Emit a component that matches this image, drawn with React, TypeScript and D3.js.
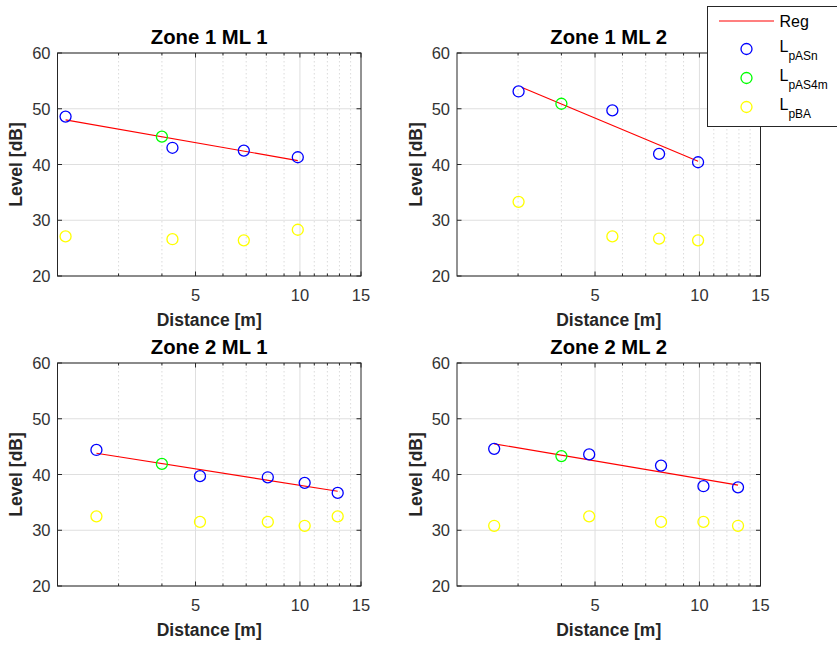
import React from "react";
import * as d3 from "d3";

// ---------- data ----------
const panelTitles = ["Zone 1 ML 1", "Zone 1 ML 2", "Zone 2 ML 1", "Zone 2 ML 2"];
const xTickValues = [5, 10, 15];
const xMajorGrid = [5, 10];
const xMinorGrid = [3, 4, 6, 7, 8, 9, 11, 12, 13, 14];
const yTickValues = [20, 30, 40, 50, 60];
const xDomain = [2, 15];
const yDomain = [20, 60];
const xLabel = "Distance [m]";
const yLabel = "Level [dB]";

// Zone 1 ML 1
const z1m1AsnDist = [2.11, 4.29, 6.89, 9.86];
const z1m1AsnLevel = [48.6, 43.0, 42.5, 41.3];
const z1m1As4mDist = [4.0];
const z1m1As4mLevel = [45.0];
const z1m1BaDist = [2.11, 4.29, 6.89, 9.86];
const z1m1BaLevel = [27.1, 26.6, 26.4, 28.3];
const z1m1RegDist = [2.11, 9.86];
const z1m1RegLevel = [48.0, 40.7];

// Zone 1 ML 2
const z1m2AsnDist = [3.01, 5.61, 7.65, 9.91];
const z1m2AsnLevel = [53.1, 49.7, 41.9, 40.4];
const z1m2As4mDist = [4.0];
const z1m2As4mLevel = [50.9];
const z1m2BaDist = [3.01, 5.61, 7.65, 9.91];
const z1m2BaLevel = [33.3, 27.1, 26.7, 26.4];
const z1m2RegDist = [3.08, 9.91];
const z1m2RegLevel = [53.8, 40.6];

// Zone 2 ML 1
const z2m1AsnDist = [2.59, 5.15, 8.08, 10.32, 12.85];
const z2m1AsnLevel = [44.4, 39.7, 39.5, 38.5, 36.7];
const z2m1As4mDist = [4.0];
const z2m1As4mLevel = [41.9];
const z2m1BaDist = [2.59, 5.15, 8.08, 10.32, 12.85];
const z2m1BaLevel = [32.5, 31.5, 31.5, 30.8, 32.5];
const z2m1RegDist = [2.59, 12.85];
const z2m1RegLevel = [43.8, 37.0];

// Zone 2 ML 2
const z2m2AsnDist = [2.56, 4.81, 7.75, 10.27, 12.92];
const z2m2AsnLevel = [44.6, 43.6, 41.6, 37.9, 37.7];
const z2m2As4mDist = [4.0];
const z2m2As4mLevel = [43.3];
const z2m2BaDist = [2.56, 4.81, 7.75, 10.27, 12.92];
const z2m2BaLevel = [30.8, 32.5, 31.5, 31.5, 30.8];
const z2m2RegDist = [2.56, 12.92];
const z2m2RegLevel = [45.5, 38.1];

const legendMain = ["Reg", "L", "L", "L"];
const legendSub = ["", "pASn", "pAS4m", "pBA"];

// ---------- styles / layout ----------
const W = 837;
const H = 645;
const colX = [57.5, 457];
const rowY = [53, 363];
const plotW = 303.5;
const plotH = 223;
const FONT = "'Liberation Sans', Arial, Helvetica, sans-serif";
const AX = "#262626";
const C_REG = "#ff0000";
const C_ASN = "#0000ff";
const C_AS4M = "#00ff00";
const C_BA = "#ffff00";
const MARK_R = 5.5;

const zip = (xs: number[], ys: number[]) => xs.map((x, i) => [x, ys[i]] as [number, number]);

const panels = [
  {
    asn: zip(z1m1AsnDist, z1m1AsnLevel),
    as4m: zip(z1m1As4mDist, z1m1As4mLevel),
    ba: zip(z1m1BaDist, z1m1BaLevel),
    reg: zip(z1m1RegDist, z1m1RegLevel),
  },
  {
    asn: zip(z1m2AsnDist, z1m2AsnLevel),
    as4m: zip(z1m2As4mDist, z1m2As4mLevel),
    ba: zip(z1m2BaDist, z1m2BaLevel),
    reg: zip(z1m2RegDist, z1m2RegLevel),
  },
  {
    asn: zip(z2m1AsnDist, z2m1AsnLevel),
    as4m: zip(z2m1As4mDist, z2m1As4mLevel),
    ba: zip(z2m1BaDist, z2m1BaLevel),
    reg: zip(z2m1RegDist, z2m1RegLevel),
  },
  {
    asn: zip(z2m2AsnDist, z2m2AsnLevel),
    as4m: zip(z2m2As4mDist, z2m2As4mLevel),
    ba: zip(z2m2BaDist, z2m2BaLevel),
    reg: zip(z2m2RegDist, z2m2RegLevel),
  },
];

function Panel({ idx }: { idx: number }) {
  const p = panels[idx];
  const left = colX[idx % 2];
  const top = rowY[Math.floor(idx / 2)];
  const x = d3.scaleLog().domain(xDomain).range([left, left + plotW]);
  const y = d3.scaleLinear().domain(yDomain).range([top + plotH, top]);
  const bottom = top + plotH;
  const right = left + plotW;
  const line = d3
    .line<[number, number]>()
    .x((d) => x(d[0]))
    .y((d) => y(d[1]));
  const tickLen = 4.5;
  const minorLen = 2.5;

  const markers = (data: [number, number][], color: string, key: string) =>
    data.map((d, i) => (
      <circle
        key={key + i}
        cx={x(d[0])}
        cy={y(d[1])}
        r={MARK_R}
        fill="none"
        stroke={color}
        strokeWidth={1.3}
      />
    ));

  return (
    <g>
      <rect x={left} y={top} width={plotW} height={plotH} fill="#fff" />
      {/* grid */}
      {yTickValues.map((v) => (
        <line key={"gy" + v} x1={left} x2={right} y1={y(v)} y2={y(v)} stroke="#dfdfdf" strokeWidth={1} />
      ))}
      {xMinorGrid.map((v) => (
        <line
          key={"gmx" + v}
          x1={x(v)}
          x2={x(v)}
          y1={top}
          y2={bottom}
          stroke="#d2d2d2"
          strokeWidth={0.8}
          strokeDasharray="1.5,2.5"
        />
      ))}
      {xMajorGrid.map((v) => (
        <line key={"gx" + v} x1={x(v)} x2={x(v)} y1={top} y2={bottom} stroke="#dfdfdf" strokeWidth={1} />
      ))}
      {/* data */}
      <path d={line(p.reg) || ""} fill="none" stroke={C_REG} strokeWidth={1.1} />
      {markers(p.asn, C_ASN, "asn")}
      {markers(p.as4m, C_AS4M, "as4m")}
      {markers(p.ba, C_BA, "ba")}
      {/* box */}
      <rect x={left} y={top} width={plotW} height={plotH} fill="none" stroke={AX} strokeWidth={1} />
      {/* ticks */}
      {yTickValues.map((v) => (
        <g key={"ty" + v}>
          <line x1={left} x2={left + tickLen} y1={y(v)} y2={y(v)} stroke={AX} />
          <line x1={right} x2={right - tickLen} y1={y(v)} y2={y(v)} stroke={AX} />
          <text
            x={left - 7}
            y={y(v) + 6}
            textAnchor="end"
            fontSize={16.5}
            fill="#333"
            fontFamily={FONT}
          >
            {v}
          </text>
        </g>
      ))}
      {xTickValues.map((v) => (
        <g key={"tx" + v}>
          <line x1={x(v)} x2={x(v)} y1={bottom} y2={bottom - tickLen} stroke={AX} />
          <line x1={x(v)} x2={x(v)} y1={top} y2={top + tickLen} stroke={AX} />
          <text x={x(v)} y={bottom + 24.5} textAnchor="middle" fontSize={16.5} fill="#333" fontFamily={FONT}>
            {v}
          </text>
        </g>
      ))}
      {xMinorGrid.map((v) => (
        <g key={"tmx" + v}>
          <line x1={x(v)} x2={x(v)} y1={bottom} y2={bottom - minorLen} stroke={AX} />
          <line x1={x(v)} x2={x(v)} y1={top} y2={top + minorLen} stroke={AX} />
        </g>
      ))}
      {/* labels */}
      <text
        x={left + plotW / 2}
        y={top - 9}
        textAnchor="middle"
        fontSize={20.3}
        fontWeight="bold"
        fill="#000"
        fontFamily={FONT}
      >
        {panelTitles[idx]}
      </text>
      <text
        x={left + plotW / 2}
        y={bottom + 50}
        textAnchor="middle"
        fontSize={17.5}
        fontWeight="bold"
        fill={AX}
        fontFamily={FONT}
      >
        {xLabel}
      </text>
      <text
        transform={`translate(${left - 35.5},${top + plotH / 2}) rotate(-90)`}
        textAnchor="middle"
        fontSize={17.5}
        fontWeight="bold"
        fill={AX}
        fontFamily={FONT}
      >
        {yLabel}
      </text>
    </g>
  );
}

function Legend() {
  const lx = 707.5;
  const ly = 6.5;
  const rows = [21, 49, 78, 107];
  const colors = [C_REG, C_ASN, C_AS4M, C_BA];
  return (
    <g>
      <rect x={lx} y={ly} width={140} height={120} fill="#fff" stroke={AX} strokeWidth={1} />
      {legendMain.map((t, i) => (
        <g key={"lg" + i}>
          {i === 0 ? (
            <line x1={719} x2={774} y1={rows[i]} y2={rows[i]} stroke={colors[i]} strokeWidth={1.1} />
          ) : (
            <circle cx={746.5} cy={rows[i]} r={MARK_R} fill="none" stroke={colors[i]} strokeWidth={1.3} />
          )}
          {i === 0 ? (
            <text x={779.5} y={rows[i] + 5.5} fontSize={16} fill="#000" fontFamily={FONT}>
              {t}
            </text>
          ) : (
            <text x={779.5} y={rows[i] + 2.5} fontSize={16} fill="#000" fontFamily={FONT}>
              <tspan>{t}</tspan>
              <tspan dy={8} fontSize={12}>
                {legendSub[i]}
              </tspan>
            </text>
          )}
        </g>
      ))}
    </g>
  );
}

export default function App() {
  return (
    <svg
      width={W}
      height={H}
      viewBox={`0 0 ${W} ${H}`}
      style={{ position: "absolute", left: 0, top: 0, background: "#fff" }}
    >
      <rect x={0} y={0} width={W} height={H} fill="#fff" />
      {[0, 1, 2, 3].map((i) => (
        <Panel key={i} idx={i} />
      ))}
      <Legend />
    </svg>
  );
}
